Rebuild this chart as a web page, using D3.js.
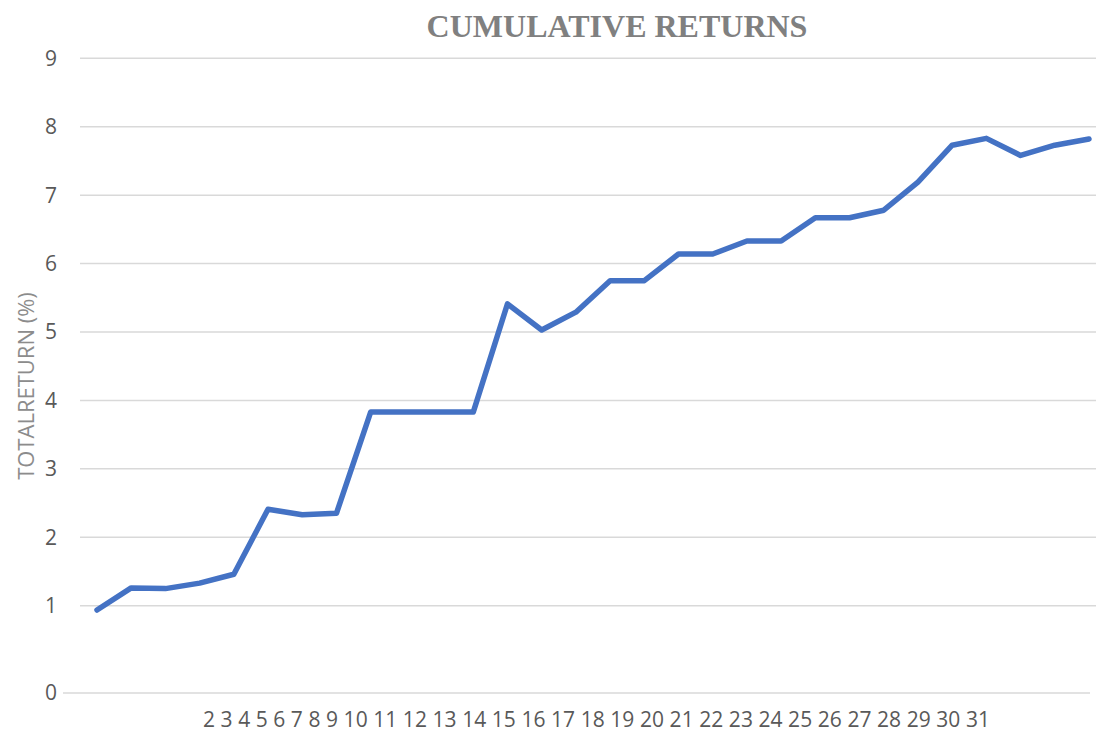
<!DOCTYPE html>
<html lang="en">
<head>
  <meta charset="UTF-8">
  <title>Cumulative Returns</title>
  <style>
    body { margin: 0; background: #fff; }
  </style>
</head>
<body>
  <div id="chart"></div>

  <script src="https://d3js.org/d3.v7.min.js"></script>
  <script>
    // data
    var periods = d3.range(1, 31);
    var totalReturn = [0.95, 1.26, 1.25, 1.33, 1.46, 2.41, 2.33, 2.35, 3.83, 3.83,
                       3.83, 3.83, 5.41, 5.03, 5.29, 5.75, 5.75, 6.14, 6.14, 6.33,
                       6.33, 6.67, 6.67, 6.78, 7.19, 7.73, 7.83, 7.58, 7.73, 7.82];
    var yTicks = [0, 1, 2, 3, 4, 5, 6, 7, 8, 9];
    var xLabels = d3.range(2, 32);

    var width = 1096, height = 734;

    var svg = d3.select("#chart")
      .append("svg")
      .attr("width", width)
      .attr("height", height);

    // x: one point per period
    var x = d3.scalePoint()
      .domain(periods)
      .range([97, 1089]);

    // y: the gap between 0 and 1 is wider than the other steps in the original
    var y = d3.scaleLinear()
      .domain([0, 1, 9])
      .range([693, 605.7, 58.3]);

    // gridlines
    svg.append("g")
      .selectAll("line")
      .data(yTicks.filter(function(d) { return d > 0; }))
      .enter()
      .append("line")
      .attr("x1", 80)
      .attr("x2", width)
      .attr("y1", function(d) { return y(d); })
      .attr("y2", function(d) { return y(d); })
      .attr("stroke", "#d9d9d9")
      .attr("stroke-width", 1.5);

    // zero line
    svg.append("line")
      .attr("x1", 63)
      .attr("x2", 1090)
      .attr("y1", y(0))
      .attr("y2", y(0))
      .attr("stroke", "#d9d9d9")
      .attr("stroke-width", 1.5);

    // y tick labels
    svg.append("g")
      .selectAll("text")
      .data(yTicks)
      .enter()
      .append("text")
      .attr("x", 57)
      .attr("y", function(d) { return y(d); })
      .attr("dy", "0.35em")
      .attr("text-anchor", "end")
      .style("font-family", "'Open Sans', sans-serif")
      .style("font-size", "21px")
      .style("fill", "#595959")
      .text(function(d) { return d; });

    // x labels, squeezed together as in the original
    svg.append("text")
      .attr("x", 203)
      .attr("y", 727)
      .attr("textLength", 787)
      .attr("lengthAdjust", "spacing")
      .style("font-family", "'Open Sans', sans-serif")
      .style("font-size", "21px")
      .style("fill", "#595959")
      .text(xLabels.join(" "));

    // y axis title
    svg.append("text")
      .attr("transform", "translate(34,386) rotate(-90)")
      .attr("text-anchor", "middle")
      .style("font-family", "'Open Sans', sans-serif")
      .style("font-size", "22px")
      .style("fill", "#8c8c8c")
      .text("TOTALRETURN (%)");

    // title
    svg.append("text")
      .attr("x", 617)
      .attr("y", 37)
      .attr("text-anchor", "middle")
      .style("font-family", "'Liberation Serif', 'Times New Roman', serif")
      .style("font-weight", "bold")
      .style("font-size", "32px")
      .style("fill", "#808080")
      .text("CUMULATIVE RETURNS");

    // the line
    var line = d3.line()
      .x(function(d, i) { return x(periods[i]); })
      .y(function(d) { return y(d); });

    svg.append("path")
      .datum(totalReturn)
      .attr("d", line)
      .attr("fill", "none")
      .attr("stroke", "#4472c4")
      .attr("stroke-width", 5.5)
      .attr("stroke-linejoin", "round")
      .attr("stroke-linecap", "round");
  </script>
</body>
</html>
